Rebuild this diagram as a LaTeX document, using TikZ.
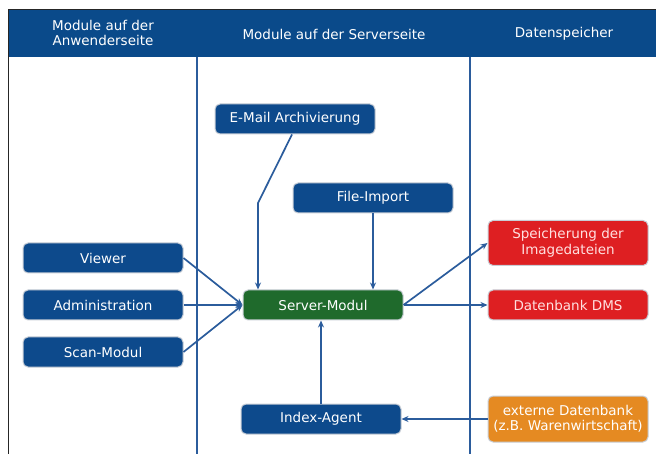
\documentclass[tikz,border=0pt]{standalone}
\usepackage{fontspec}
\setmainfont{DejaVu Sans}
\usetikzlibrary{arrows.meta}
\definecolor{hdrblue}{HTML}{0A4A8A}
\definecolor{boxblue}{HTML}{0D4A8C}
\definecolor{linblue}{HTML}{2B5C9C}
\definecolor{boxgreen}{HTML}{1F6A2C}
\definecolor{boxred}{HTML}{DE1F22}
\definecolor{boxorange}{HTML}{E58A22}
\definecolor{rimgray}{HTML}{C8CED6}
\begin{document}
\begin{tikzpicture}[x=1pt,y=-1pt,
  modbox/.style={draw=rimgray,line width=1pt,rounded corners=5pt,minimum width=160pt,minimum height=30pt,inner sep=0pt,text=white,font=\fontsize{13.5}{15.5}\selectfont,align=center},
  bluebox/.style={modbox,fill=boxblue},
  greenbox/.style={modbox,fill=boxgreen},
  redbox/.style={modbox,fill=boxred,text=white!88!red},
  orangebox/.style={modbox,fill=boxorange},
  conn/.style={draw=linblue,line width=1.7pt},
  arr/.style={conn,-{Stealth[length=7pt,width=6pt]}},
  hdr/.style={text=white,font=\fontsize{13.5}{15}\selectfont,align=center}]
\useasboundingbox (0,0) rectangle (656,454);
\fill[white] (0,0) rectangle (656,454);
% header band and frame
\fill[hdrblue] (9,10) rectangle (656,57);
\draw[black!85,line width=1pt] (8.5,454) -- (8.5,9.5) -- (656,9.5);
\draw[linblue,line width=1.8pt] (197,57) -- (197,454);
\draw[linblue,line width=1.8pt] (470,57) -- (470,454);
\node[hdr] (h1) at (103,33) {Module auf der\\Anwenderseite};
\node[hdr] (h2) at (334,34) {Module auf der Serverseite};
\node[hdr] (h3) at (564,34) {Datenspeicher};
% nodes
\node[bluebox] (mail) at (295,119) {E-Mail Archivierung};
\node[bluebox] (file) at (373,198) {File-Import};
\node[bluebox] (viewer) at (103,258) {Viewer};
\node[bluebox] (admin) at (103,305) {Administration};
\node[bluebox] (scan) at (103,352) {Scan-Modul};
\node[greenbox] (server) at (323,305) {Server-Modul};
\node[bluebox] (index) at (321,419) {Index-Agent};
\node[redbox,minimum height=45pt] (img) at (568,243) {Speicherung der\\Imagedateien};
\node[redbox] (dms) at (568,305) {Datenbank DMS};
\node[orangebox,minimum height=46pt] (ext) at (568,419) {externe Datenbank\\(z.B. Warenwirtschaft)};
\coordinate (bend) at (258,203);
% connectors
\draw[arr] (viewer.east) -- (server.west);
\draw[arr] (admin.east) -- (server.west);
\draw[arr] (scan.east) -- (server.west);
\draw[arr] (mail.south -| 292,0) -- (bend) -- (server.north -| bend);
\draw[arr] (file.south) -- (server.north -| file.south);
\draw[arr] (index.north) -- (server.south -| index.north);
\draw[arr] (server.east) -- (img.west);
\draw[arr] (server.east) -- (dms.west);
\draw[arr] (ext.west) -- (index.east);
\end{tikzpicture}
\end{document}
